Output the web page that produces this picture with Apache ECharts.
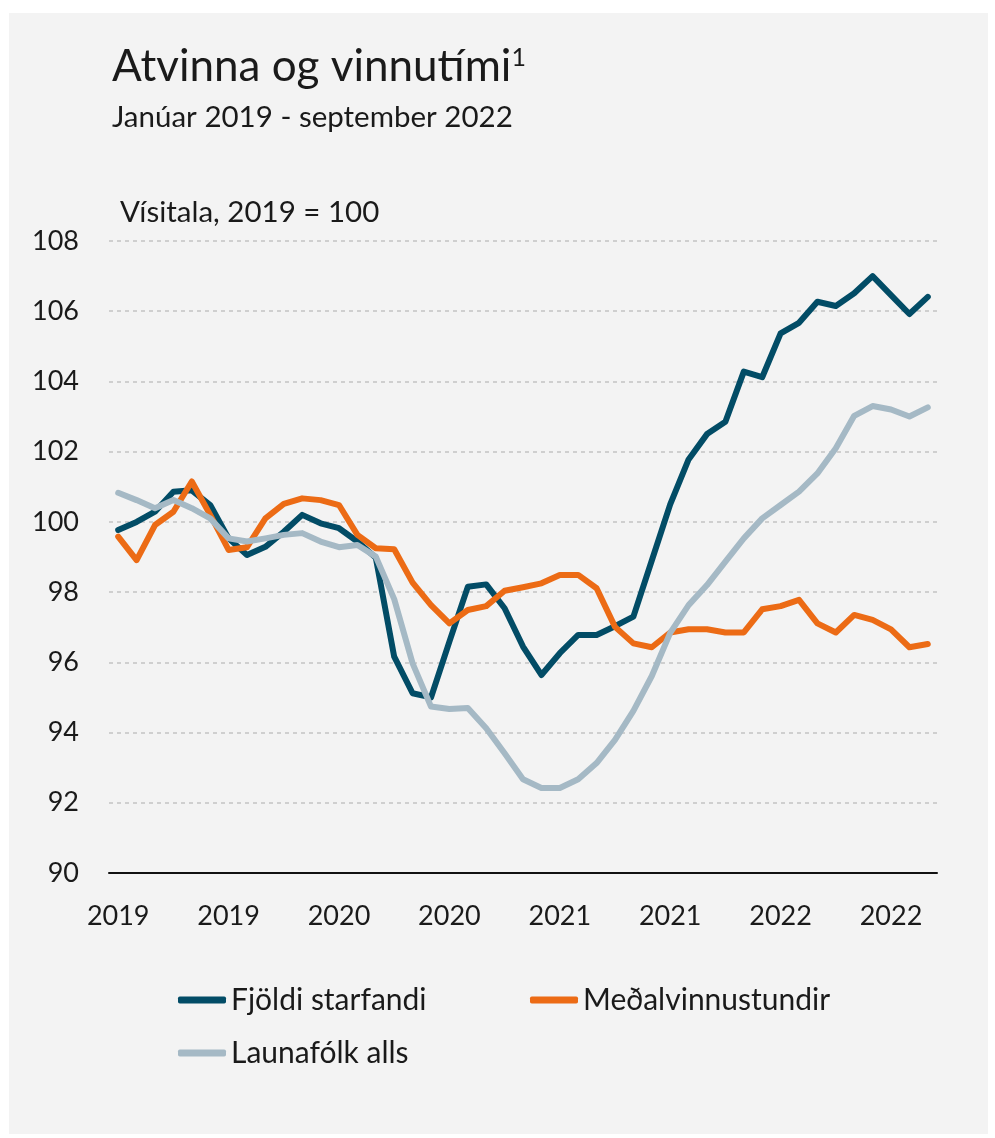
<!DOCTYPE html>
<html lang="is">
<head>
    <meta charset="UTF-8">
    <title>Atvinna og vinnutími</title>
    <script src="https://cdn.jsdelivr.net/npm/echarts@6.0.0/dist/echarts.min.js"></script>
    <style>
        body {
            margin: 0;
            background: #ffffff;
        }
        #panel {
            position: absolute;
            left: 9px;
            top: 13px;
            width: 979px;
            height: 1121px;
            background: #f3f3f3;
        }
        #chart {
            position: absolute;
            left: 0;
            top: 0;
            width: 995px;
            height: 1138px;
        }
    </style>
</head>
<body>
    <div id="panel"></div>
    <div id="chart"></div>
    <script>
        // Mánuðir: janúar 2019 - september 2022
        const months = [
            '2019-01', '2019-02', '2019-03', '2019-04', '2019-05', '2019-06',
            '2019-07', '2019-08', '2019-09', '2019-10', '2019-11', '2019-12',
            '2020-01', '2020-02', '2020-03', '2020-04', '2020-05', '2020-06',
            '2020-07', '2020-08', '2020-09', '2020-10', '2020-11', '2020-12',
            '2021-01', '2021-02', '2021-03', '2021-04', '2021-05', '2021-06',
            '2021-07', '2021-08', '2021-09', '2021-10', '2021-11', '2021-12',
            '2022-01', '2022-02', '2022-03', '2022-04', '2022-05', '2022-06',
            '2022-07', '2022-08', '2022-09'
        ];

        const seriesNames = ['Fjöldi starfandi', 'Meðalvinnustundir', 'Launafólk alls'];

        const fjoldiStarfandi = [
            99.77, 100.0, 100.29, 100.86, 100.9, 100.48, 99.53, 99.06, 99.29, 99.72, 100.2, 99.96,
            99.82, 99.44, 98.98, 96.16, 95.12, 95.0, 96.59, 98.15, 98.22, 97.54, 96.45, 95.64,
            96.26, 96.78, 96.78, 97.03, 97.3, 98.9, 100.5, 101.78, 102.5, 102.85, 104.28, 104.12,
            105.37, 105.67, 106.27, 106.15, 106.51, 107.0, 106.46, 105.92, 106.41
        ];

        const medalvinnustundir = [
            99.58, 98.91, 99.91, 100.29, 101.15, 100.2, 99.2, 99.28, 100.1, 100.51, 100.67, 100.62,
            100.48, 99.63, 99.25, 99.22, 98.27, 97.63, 97.11, 97.49, 97.6, 98.04, 98.14, 98.25,
            98.49, 98.49, 98.11, 97.01, 96.54, 96.43, 96.85, 96.94, 96.94, 96.85, 96.85, 97.51,
            97.6, 97.78, 97.11, 96.85, 97.35, 97.21, 96.94, 96.43, 96.52
        ];

        const launafolkAlls = [
            100.83, 100.62, 100.39, 100.62, 100.39, 100.1, 99.53, 99.44, 99.53, 99.63, 99.68, 99.44,
            99.28, 99.34, 99.01, 97.8, 95.97, 94.74, 94.67, 94.7, 94.12, 93.41, 92.67, 92.42,
            92.42, 92.67, 93.13, 93.79, 94.62, 95.61, 96.84, 97.63, 98.2, 98.87, 99.53, 100.1,
            100.48, 100.86, 101.38, 102.1, 103.02, 103.3, 103.2, 103.0, 103.26
        ];

        const colors = ['#024c66', '#ec6b15', '#a5b9c5'];
        const textColor = '#1a1a1a';
        const font = 'Lato';

        const chart = echarts.init(document.getElementById('chart'));

        function makeSeries(name, data, color) {
            return {
                name: name,
                type: 'line',
                data: data,
                symbol: 'none',
                color: color,
                lineStyle: {
                    width: 6,
                    color: color,
                    cap: 'round',
                    join: 'round'
                }
            };
        }

        function makeLegend(name, left, top) {
            return {
                data: [name],
                left: left,
                top: top,
                padding: 0,
                icon: 'roundRect',
                itemWidth: 48,
                itemHeight: 7,
                itemGap: 0,
                textStyle: {
                    fontFamily: font,
                    fontSize: 30,
                    color: textColor
                }
            };
        }

        const option = {
            animation: false,
            backgroundColor: 'transparent',
            textStyle: { fontFamily: font },
            title: [
                {
                    text: '{t|Atvinna og vinnutími}{s|1}',
                    left: 112,
                    top: 45,
                    padding: 0,
                    textStyle: {
                        fontWeight: 'normal',
                        rich: {
                            t: { fontFamily: font, fontSize: 44, fontWeight: 'normal', color: textColor },
                            s: { fontFamily: font, fontSize: 25, fontWeight: 'normal', color: textColor, verticalAlign: 'top' }
                        }
                    }
                },
                {
                    text: 'Janúar 2019 - september 2022',
                    left: 112,
                    top: 102,
                    padding: 0,
                    textStyle: { fontFamily: font, fontSize: 29.5, fontWeight: 'normal', color: textColor }
                },
                {
                    text: 'Vísitala, 2019 = 100',
                    left: 120,
                    top: 197,
                    padding: 0,
                    textStyle: { fontFamily: font, fontSize: 29.5, fontWeight: 'normal', color: textColor }
                }
            ],
            legend: [
                makeLegend(seriesNames[0], 178, 985),
                makeLegend(seriesNames[1], 530, 985),
                makeLegend(seriesNames[2], 178, 1038)
            ],
            grid: {
                left: 109,
                right: 58,
                top: 241,
                bottom: 265
            },
            xAxis: {
                type: 'category',
                data: months,
                boundaryGap: true,
                axisLine: { lineStyle: { color: '#111', width: 2 } },
                axisTick: { interval: 5, length: 9, lineStyle: { color: '#111', width: 2 } },
                axisLabel: {
                    interval: 5,
                    formatter: value => value.substring(0, 4),
                    fontFamily: font,
                    fontSize: 27,
                    color: textColor,
                    margin: 30
                },
                splitLine: { show: false }
            },
            yAxis: {
                type: 'value',
                min: 90,
                max: 108,
                interval: 2,
                axisLine: { show: false },
                axisTick: { show: false },
                axisLabel: {
                    fontFamily: font,
                    fontSize: 27,
                    color: textColor,
                    margin: 30
                },
                splitLine: {
                    lineStyle: { color: '#c4c4c4', width: 1.5, type: [4, 4] }
                }
            },
            series: [
                makeSeries(seriesNames[0], fjoldiStarfandi, colors[0]),
                makeSeries(seriesNames[1], medalvinnustundir, colors[1]),
                makeSeries(seriesNames[2], launafolkAlls, colors[2])
            ]
        };

        chart.setOption(option);
    </script>
</body>
</html>
